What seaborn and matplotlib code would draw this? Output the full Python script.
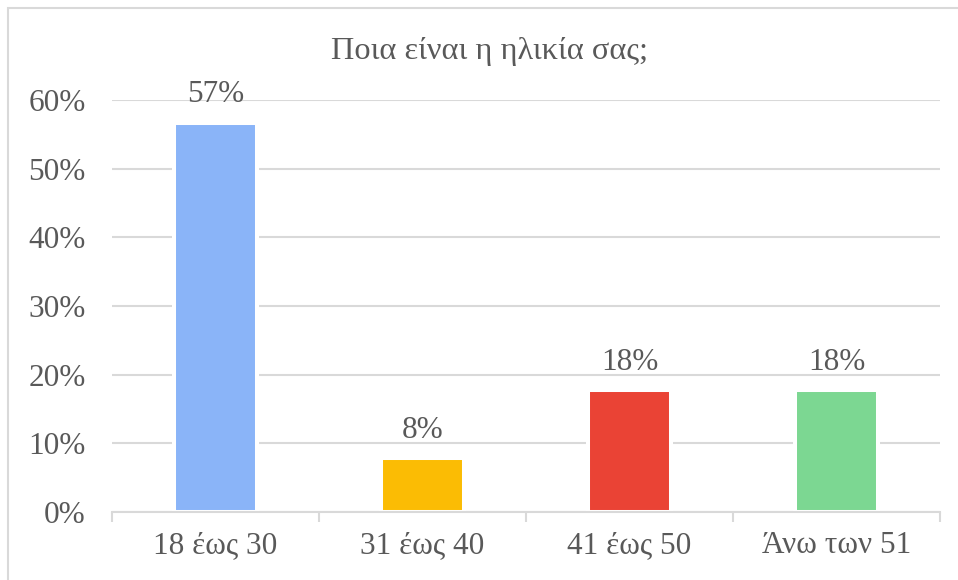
import matplotlib
matplotlib.use("Agg")
import matplotlib.pyplot as plt
import seaborn as sns
import pandas as pd
from matplotlib.patches import Rectangle
from matplotlib.ticker import FixedLocator

categories = ["18 έως 30", "31 έως 40", "41 έως 50", "Άνω των 51"]
values = [56.7, 7.8, 17.7, 17.7]
colors = ["#8AB4F8", "#FBBC04", "#EA4335", "#7CD792"]
title = "Ποια είναι η ηλικία σας;"
yticks = [0, 10, 20, 30, 40, 50, 60]

sns.set_theme(style="white")
plt.rcParams['font.family'] = ['Liberation Serif', 'DejaVu Serif']

W, H = 958, 580
fig = plt.figure(figsize=(W / 100, H / 100), dpi=100)
ax = fig.add_axes([112 / W, 1 - 512 / H, (940 - 112) / W, (512 - 100) / H])

df = pd.DataFrame({"cat": categories, "val": values})
sns.barplot(data=df, x="cat", y="val", hue="cat", palette=colors, legend=False,
            width=0.40, edgecolor="white", linewidth=2.9, saturation=1, ax=ax)

txt = "#595959"
grid = "#D9D9D9"
fs = 22.5
ax.set_axisbelow(True)
ax.set_ylim(0, 60)
ax.set_xlim(-0.5, len(categories) - 0.5)
ax.set_yticks(yticks)
ax.set_yticklabels([f"{t}%" for t in yticks])
ax.yaxis.grid(True, color=grid, linewidth=1.5)
ax.xaxis.grid(False)
ax.set_xlabel("")
ax.set_ylabel("")
for s in ["left", "right", "top"]:
    ax.spines[s].set_visible(False)
ax.spines["bottom"].set_color(grid)
ax.spines["bottom"].set_linewidth(1.5)

ax.xaxis.set_minor_locator(FixedLocator([i - 0.5 for i in range(len(categories) + 1)]))
ax.tick_params(axis="x", which="minor", length=7, width=1.5, color=grid, bottom=True)
ax.tick_params(axis="x", which="major", length=0, pad=14, labelsize=fs, labelcolor=txt)
ax.tick_params(axis="y", length=0, pad=19, labelsize=fs, labelcolor=txt)

for c in ax.containers:
    ax.bar_label(c, labels=[f"{v:.0f}%" for v in c.datavalues], padding=10,
                 fontsize=fs, color=txt)

fig.text(490 / W, 1 - 59 / H, title, ha="center", va="baseline", fontsize=23.3, color=txt)

fig.patches.append(Rectangle((8 / W, -0.2), 1.2, 1 - 8 / H + 0.2, transform=fig.transFigure,
                             fill=False, edgecolor=grid, linewidth=1.5))

fig.savefig("out.png", dpi=100, facecolor="white")
